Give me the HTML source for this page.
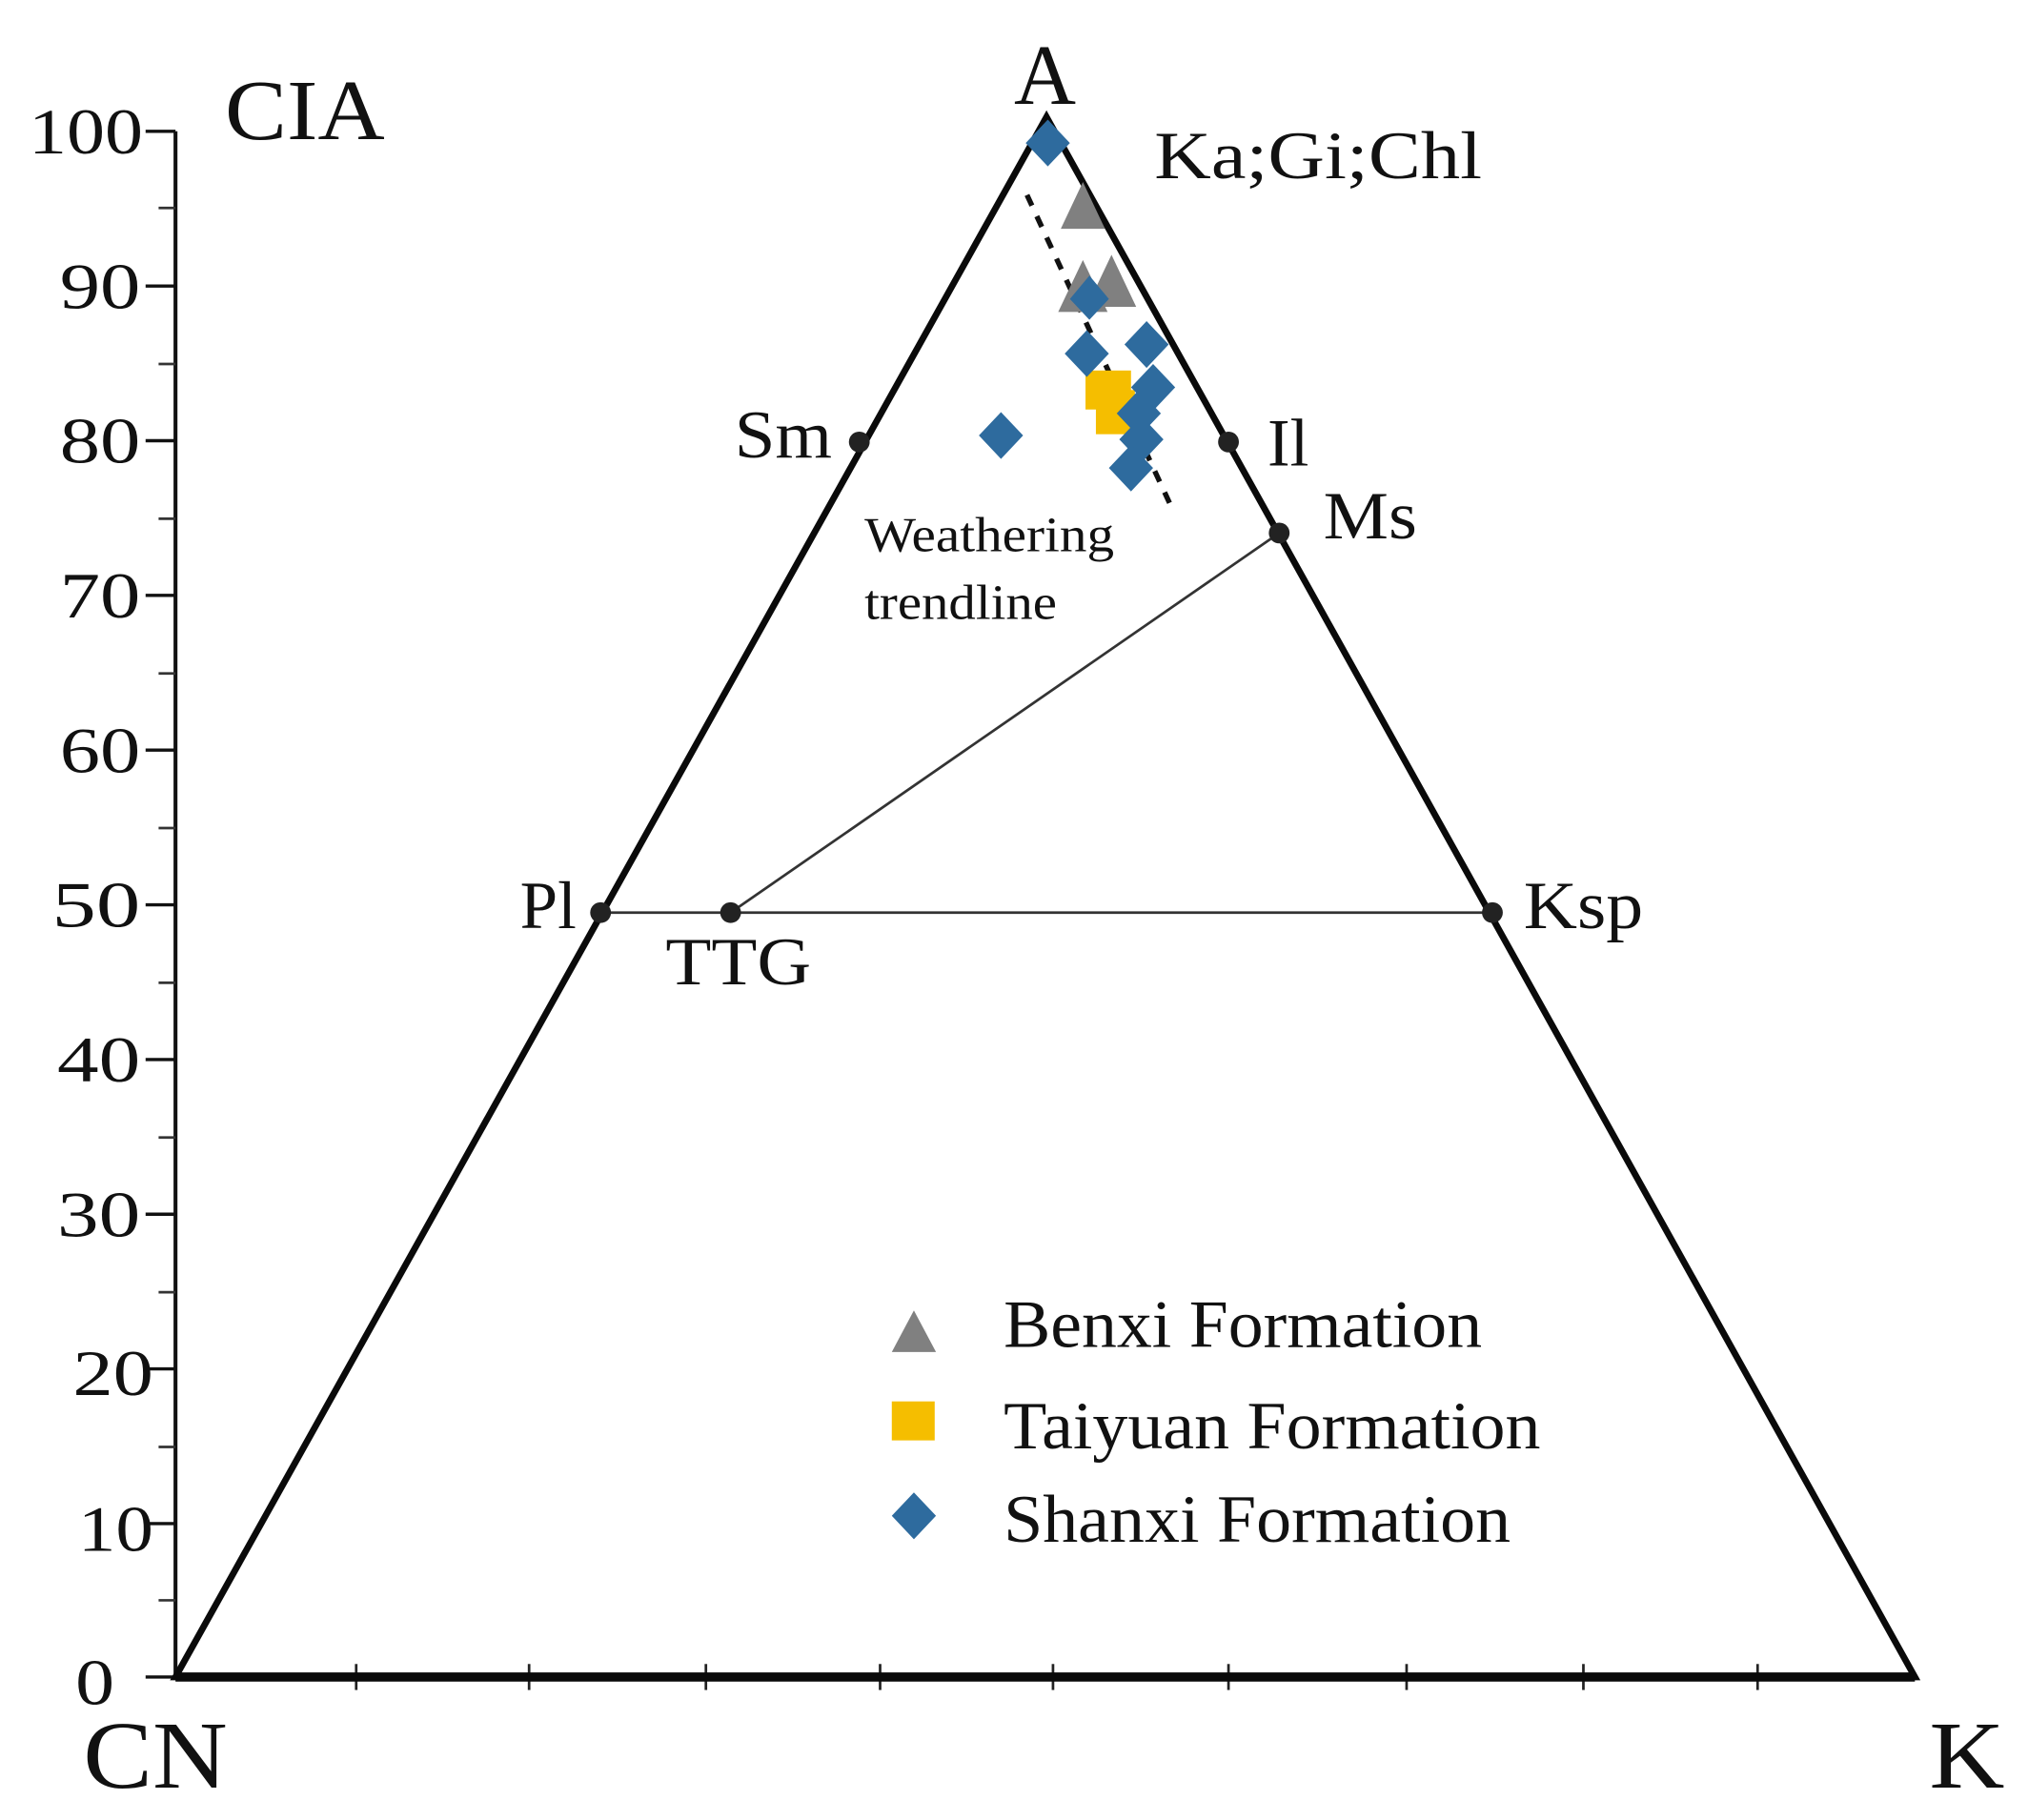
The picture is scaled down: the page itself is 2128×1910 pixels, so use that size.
<!DOCTYPE html>
<html><head><style>html,body{margin:0;padding:0;background:#fff}svg{display:block}</style></head><body>
<svg width="2128" height="1910" viewBox="0 0 1560 1400" preserveAspectRatio="none" xmlns="http://www.w3.org/2000/svg" font-family="Liberation Serif, serif">
<rect width="1560" height="1400" fill="#fff"/>
<line x1="135" y1="101" x2="135" y2="1292" stroke="#111" stroke-width="3"/>
<g stroke="#111" stroke-width="2.5">
<line x1="112" y1="101" x2="135" y2="101"/><line x1="112" y1="220" x2="135" y2="220"/><line x1="112" y1="339" x2="135" y2="339"/><line x1="112" y1="458" x2="135" y2="458"/><line x1="112" y1="577" x2="135" y2="577"/><line x1="112" y1="696" x2="135" y2="696"/><line x1="112" y1="815" x2="135" y2="815"/><line x1="112" y1="934" x2="135" y2="934"/><line x1="112" y1="1053" x2="135" y2="1053"/><line x1="112" y1="1172" x2="135" y2="1172"/><line x1="112" y1="1290" x2="135" y2="1290"/>
</g>
<g stroke="#333" stroke-width="2">
<line x1="122" y1="160" x2="135" y2="160"/><line x1="122" y1="280" x2="135" y2="280"/><line x1="122" y1="399" x2="135" y2="399"/><line x1="122" y1="518" x2="135" y2="518"/><line x1="122" y1="637" x2="135" y2="637"/><line x1="122" y1="756" x2="135" y2="756"/><line x1="122" y1="875" x2="135" y2="875"/><line x1="122" y1="994" x2="135" y2="994"/><line x1="122" y1="1113" x2="135" y2="1113"/><line x1="122" y1="1231" x2="135" y2="1231"/>
</g>
<g font-size="50" fill="#111" lengthAdjust="spacingAndGlyphs">
<text x="22" y="118" textLength="88" lengthAdjust="spacingAndGlyphs">100</text>
<text x="46" y="237" textLength="62" lengthAdjust="spacingAndGlyphs">90</text>
<text x="46" y="356" textLength="62" lengthAdjust="spacingAndGlyphs">80</text>
<text x="46" y="475" textLength="62" lengthAdjust="spacingAndGlyphs">70</text>
<text x="46" y="594" textLength="62" lengthAdjust="spacingAndGlyphs">60</text>
<text x="40" y="713" textLength="68" lengthAdjust="spacingAndGlyphs">50</text>
<text x="44" y="832" textLength="64" lengthAdjust="spacingAndGlyphs">40</text>
<text x="44" y="951" textLength="64" lengthAdjust="spacingAndGlyphs">30</text>
<text x="56" y="1073" textLength="62" lengthAdjust="spacingAndGlyphs">20</text>
<text x="60" y="1193" textLength="58" lengthAdjust="spacingAndGlyphs">10</text>
<text x="58" y="1311" textLength="30" lengthAdjust="spacingAndGlyphs">0</text>
</g>
<text x="173" y="107" font-size="66" fill="#111" textLength="123" lengthAdjust="spacingAndGlyphs">CIA</text>
<g stroke="#222" stroke-width="2">
<line x1="274" y1="1280" x2="274" y2="1300"/><line x1="407" y1="1280" x2="407" y2="1300"/><line x1="543" y1="1280" x2="543" y2="1300"/><line x1="677" y1="1280" x2="677" y2="1300"/><line x1="810" y1="1280" x2="810" y2="1300"/><line x1="945" y1="1280" x2="945" y2="1300"/><line x1="1082" y1="1280" x2="1082" y2="1300"/><line x1="1218" y1="1280" x2="1218" y2="1300"/><line x1="1352" y1="1280" x2="1352" y2="1300"/>
</g>
<polygon points="135,1290 805,90 1473,1290" fill="none" stroke="#0a0a0a" stroke-width="5" stroke-linejoin="miter"/>
<line x1="135" y1="1290" x2="1473" y2="1290" stroke="#0a0a0a" stroke-width="7"/>
<line x1="462" y1="702" x2="1148" y2="702" stroke="#333" stroke-width="2"/>
<line x1="562" y1="702" x2="984" y2="410" stroke="#333" stroke-width="2"/>
<line x1="790" y1="150" x2="902" y2="392" stroke="#111" stroke-width="4" stroke-dasharray="9,9"/>
<g fill="#222">
<circle cx="462" cy="702" r="8"/><circle cx="1148" cy="702" r="8"/><circle cx="562" cy="702" r="8"/><circle cx="984" cy="410" r="8"/><circle cx="661" cy="340" r="8"/><circle cx="945" cy="340" r="8"/>
</g>
<g fill="#808080">
<polygon points="833,140 850,176 816,176"/><polygon points="833,200 852,240 814,240"/><polygon points="855,196 874,236 836,236"/>
</g>
<g fill="#f5be00"><rect x="835" y="285" width="35" height="30"/><rect x="843" y="300" width="30" height="34"/></g>
<g fill="#2e6b9e">
<polygon points="806,92 823,110 806,128 789,110"/>
<polygon points="838,212 853,230 838,246 823,230"/>
<polygon points="836,254 853,272 836,290 819,272"/>
<polygon points="882,247 899,265 882,283 865,265"/>
<polygon points="887,280 904,298 887,316 870,298"/>
<polygon points="876,300 893,318 876,336 859,318"/>
<polygon points="878,320 895,338 878,356 861,338"/>
<polygon points="870,342 887,360 870,378 853,360"/>
<polygon points="770,317 787,335 770,353 753,335"/>
</g>
<g fill="#111">
<text x="780" y="80" font-size="66">A</text>
<text x="888" y="137" font-size="52" textLength="252" lengthAdjust="spacingAndGlyphs">Ka;Gi;Chl</text>
<text x="565" y="352" font-size="52" textLength="75" lengthAdjust="spacingAndGlyphs">Sm</text>
<text x="975" y="358" font-size="52">Il</text>
<text x="1018" y="414" font-size="52" textLength="72" lengthAdjust="spacingAndGlyphs">Ms</text>
<text x="665" y="424" font-size="38" textLength="192" lengthAdjust="spacingAndGlyphs">Weathering</text>
<text x="665" y="476" font-size="38" textLength="148" lengthAdjust="spacingAndGlyphs">trendline</text>
<text x="400" y="714" font-size="52">Pl</text>
<text x="512" y="757" font-size="52" textLength="112" lengthAdjust="spacingAndGlyphs">TTG</text>
<text x="1172" y="714" font-size="52" textLength="92" lengthAdjust="spacingAndGlyphs">Ksp</text>
<text x="64" y="1375" font-size="74" textLength="111" lengthAdjust="spacingAndGlyphs">CN</text>
<text x="1484" y="1375" font-size="74" textLength="58" lengthAdjust="spacingAndGlyphs">K</text>
<text x="772" y="1036" font-size="52" textLength="368" lengthAdjust="spacingAndGlyphs">Benxi Formation</text>
<text x="772" y="1114" font-size="52" textLength="413" lengthAdjust="spacingAndGlyphs">Taiyuan Formation</text>
<text x="772" y="1186" font-size="52" textLength="390" lengthAdjust="spacingAndGlyphs">Shanxi Formation</text>
</g>
<polygon points="703,1008 720,1040 686,1040" fill="#808080"/>
<rect x="686" y="1078" width="33" height="30" fill="#f5be00"/>
<polygon points="703,1148 720,1166 703,1184 686,1166" fill="#2e6b9e"/>
</svg>
</body></html>
